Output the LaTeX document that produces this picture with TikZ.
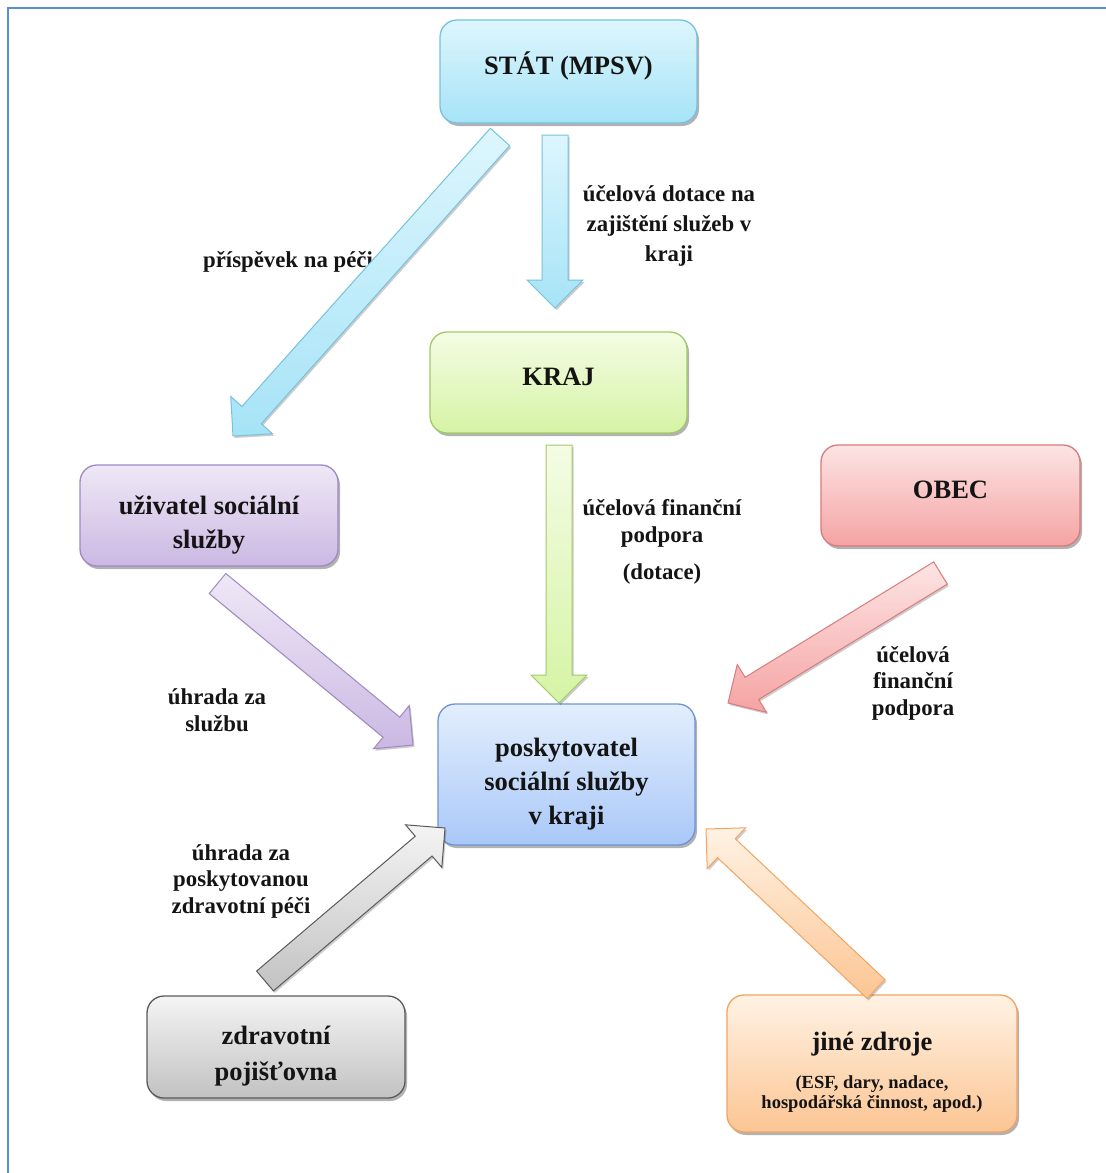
\documentclass[tikz,border=0pt]{standalone}
\usepackage{fontspec}
\setmainfont{Liberation Serif}
\usetikzlibrary{calc,shadows}
\definecolor{frameblue}{HTML}{5B8DD1}
\definecolor{statT}{HTML}{DDF6FD}\definecolor{statB}{HTML}{A6E3F7}\definecolor{statD}{HTML}{76C2DE}
\definecolor{krajT}{HTML}{F4FCE4}\definecolor{krajB}{HTML}{D5F4A4}\definecolor{krajD}{HTML}{A2C96A}
\definecolor{userT}{HTML}{EFE8F6}\definecolor{userB}{HTML}{CBB8E3}\definecolor{userD}{HTML}{9E8AC2}
\definecolor{obecT}{HTML}{FDE4E4}\definecolor{obecB}{HTML}{F5A3A3}\definecolor{obecD}{HTML}{D77B7B}
\definecolor{poskT}{HTML}{E3EEFD}\definecolor{poskB}{HTML}{A9C8F8}\definecolor{poskD}{HTML}{6C94D6}
\definecolor{zdrT}{HTML}{F4F4F4}\definecolor{zdrB}{HTML}{C2C2C2}\definecolor{zdrD}{HTML}{5A5A5A}
\definecolor{jineT}{HTML}{FFF2E4}\definecolor{jineB}{HTML}{FCC593}\definecolor{jineD}{HTML}{F2A562}
\newcommand\blkarrow[3]{%
  \coordinate (bk) at ($(#2)!28pt!(#1)$);
  \path[#3] ($(#1)!13pt!90:(#2)$) -- ($(bk)!13pt!90:(#2)$) -- ($(bk)!28pt!90:(#2)$) -- (#2)
    -- ($(bk)!28pt!-90:(#2)$) -- ($(bk)!13pt!-90:(#2)$) -- ($(#1)!13pt!-90:(#2)$) -- cycle;}
\newcommand\smallfnt{\fontsize{18.5}{21}\selectfont}
\newcommand\upstr[1]{\rule{0pt}{#1}}
\newcommand\dnstr[1]{\rule[-#1]{0pt}{#1}}
\begin{document}
\begin{tikzpicture}[x=1pt,y=-1pt,
  box/.style={rounded corners=17pt, line width=1.3pt, align=center,
    font=\fontsize{26.5}{34}\selectfont\bfseries, text=black!92,
    drop shadow={shadow xshift=2pt,shadow yshift=-3pt,opacity=0.3,fill=black}},
  lbl/.style={align=center, font=\fontsize{22.8}{26.5}\selectfont\bfseries, text=black!92},
  arr/.style={line width=1pt, line join=miter,
    drop shadow={shadow xshift=1.5pt,shadow yshift=-2pt,opacity=0.2,fill=black}},
  frame/.style={draw=frameblue, line width=2pt}
]
\useasboundingbox (0,0) rectangle (1106,1173);
\draw[frame] (8,1173) -- (8,8) -- (1106,8);

% boxes
\node[box, minimum width=257pt, minimum height=103pt, draw=statD, top color=statT, bottom color=statB] (stat) at (568.5,71.5) {STÁT (MPSV)\dnstr{17.5pt}};
\node[box, minimum width=257pt, minimum height=101pt, draw=krajD, top color=krajT, bottom color=krajB] (kraj) at (558.5,382.5) {KRAJ\dnstr{12pt}};
\node[box, minimum width=258pt, minimum height=101pt, draw=userD, top color=userT, bottom color=userB] (user) at (209,515.5) {\upstr{38pt}uživatel sociální\\služby};
\node[box, minimum width=259pt, minimum height=101pt, draw=obecD, top color=obecT, bottom color=obecB] (obec) at (950.5,495.5) {OBEC\dnstr{12pt}};
\node[box, minimum width=257pt, minimum height=141pt, draw=poskD, top color=poskT, bottom color=poskB] (posk) at (566.5,774.5) {\upstr{38pt}poskytovatel\\sociální služby\\v kraji};
\node[box, minimum width=258pt, minimum height=102pt, draw=zdrD, top color=zdrT, bottom color=zdrB] (zdrav) at (276,1047) {\upstr{36pt}zdravotní\\[2pt]pojišťovna};
\node[box, minimum width=290pt, minimum height=137pt, draw=jineD, top color=jineT, bottom color=jineB] (jine) at (872,1063.5) {\upstr{36pt}jiné zdroje\\[4pt]\smallfnt (ESF, dary, nadace,\\[-14pt]\smallfnt hospodářská činnost, apod.)};

% labels
\node[lbl] (l1) at (288,262) {příspěvek na péči};
\node[lbl, font=\fontsize{22.8}{30}\selectfont\bfseries] (l2) at (669,226) {účelová dotace na\\zajištění služeb v\\kraji};
\node[lbl] (l3) at (662,542) {účelová finanční\\podpora\\[11pt](dotace)};
\node[lbl] (l4) at (217,710) {úhrada za\\službu};
\node[lbl] (l5) at (913,683) {účelová\\finanční\\podpora};
\node[lbl] (l6) at (241,881) {úhrada za\\poskytovanou\\zdravotní péči};

% arrow end points
\coordinate (a1t) at (500,137); \coordinate (a1h) at (233,436);
\coordinate (a2t) at (555,135); \coordinate (a2h) at (555,308);
\coordinate (a3t) at (559,445); \coordinate (a3h) at (559,703);
\coordinate (a4t) at (217.5,583.5); \coordinate (a4h) at (413,745);
\coordinate (a5t) at (940.5,573); \coordinate (a5h) at (728,703);
\coordinate (a6t) at (265,981); \coordinate (a6h) at (445,828);
\coordinate (a7t) at (876,989); \coordinate (a7h) at (706,829);

\blkarrow{a1t}{a1h}{arr, draw=statD, top color=statT, bottom color=statB}
\blkarrow{a2t}{a2h}{arr, draw=statD, top color=statT, bottom color=statB}
\blkarrow{a3t}{a3h}{arr, draw=krajD, top color=krajT, bottom color=krajB}
\blkarrow{a4t}{a4h}{arr, draw=userD, top color=userT, bottom color=userB}
\blkarrow{a5t}{a5h}{arr, draw=obecD, top color=obecT, bottom color=obecB}
\blkarrow{a6t}{a6h}{arr, draw=zdrD, top color=zdrT, bottom color=zdrB}
\blkarrow{a7t}{a7h}{arr, draw=jineD, top color=jineT, bottom color=jineB}
\end{tikzpicture}
\end{document}
